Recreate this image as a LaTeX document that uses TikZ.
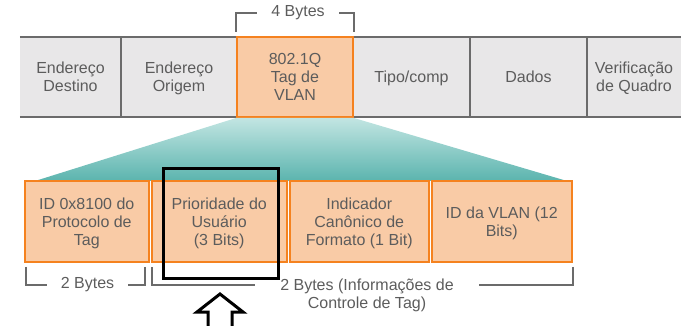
\documentclass[tikz,border=0pt]{standalone}
\usepackage{fontspec}
\setmainfont{Liberation Sans}
\usetikzlibrary{calc}
\definecolor{quadrocinza}{HTML}{E8E7E8}
\definecolor{bordacinza}{HTML}{6B6B6B}
\definecolor{textocinza}{HTML}{5C5C5C}
\definecolor{tagfundo}{HTML}{F9CBA6}
\definecolor{tagborda}{HTML}{F5821F}
\definecolor{tealclaro}{HTML}{C2E5E2}
\definecolor{tealescuro}{HTML}{5BB4AE}

\begin{document}
\begin{tikzpicture}[x=1pt,y=-1pt,
  campo/.style={fill=quadrocinza,minimum height=80pt,inner sep=0pt,align=center,font=\fontsize{16}{18}\selectfont,text=textocinza,text depth=-2pt},
  subcampo/.style={fill=tagfundo,draw=tagborda,line width=2pt,minimum height=81pt,inner sep=0pt,align=center,font=\fontsize{16}{18}\selectfont,text=textocinza,text depth=-2pt},
  borda/.style={draw=bordacinza,line width=2.2pt},
  chave/.style={draw=bordacinza,line width=1.4pt},
  rotulo/.style={font=\fontsize{16}{18}\selectfont,text=textocinza,align=center,inner xsep=14pt,inner ysep=0pt},
  destaque/.style={draw=black,line width=3pt,minimum width=115pt,minimum height=110pt,inner sep=0pt},
  seta/.style={draw=black,fill=white,line width=3pt,line join=miter}
]
\useasboundingbox (0,0) rectangle (681,326);
% quadro ethernet
\node[campo,minimum width=101pt] (dest) at (70.5,77) {Endereço\\Destino};
\node[campo,minimum width=116pt] (orig) at (179,77) {Endereço\\Origem};
\node[campo,minimum width=117pt] (tipo) at (411.5,77) {Tipo/comp};
\node[campo,minimum width=117pt] (dados) at (528.5,77) {Dados};
\node[campo,minimum width=94pt] (verif) at (634,77) {Verificação\\de Quadro};
\draw[borda] (dest.north west) -- (verif.north east);
\draw[borda] (dest.south west) -- (verif.south east);
\draw[borda] (dest.north east) -- (dest.south east);
\draw[borda] (tipo.north east) -- (tipo.south east);
\draw[borda] (dados.north east) -- (dados.south east);
\node[campo,fill=tagfundo,draw=tagborda,line width=2pt,minimum width=116pt] (tag) at (295,77) {802.1Q\\Tag de\\VLAN};
% 4 bytes
\node[rotulo] (quatro) at ($(tag.north)+(3,-23)$) {4 Bytes};
\draw[chave] ([yshift=4pt]tag.north west) |- (quatro.west);
\draw[chave] ([yshift=4pt]tag.north east) |- (quatro.east);
% ampliacao da tag
\coordinate (trapesq) at (35,181);
\coordinate (trapdir) at (567,181);
\shade[top color=tealclaro,bottom color=tealescuro] (tag.south west) -- (tag.south east) -- (trapdir) -- (trapesq) -- cycle;
\node[subcampo,minimum width=123.5pt] (tpid) at (86.75,221.5) {ID 0x8100 do\\Protocolo de\\Tag};
\node[subcampo,minimum width=135.5pt] (prio) at (219.25,221.5) {Prioridade do\\Usuário\\(3 Bits)};
\node[subcampo,minimum width=138.5pt] (cfi) at (359.25,221.5) {Indicador\\Canônico de\\Formato (1 Bit)};
\node[subcampo,minimum width=140.5pt] (vid) at (501.75,221.5) {ID da VLAN (12\\Bits)};
% chaves de bytes
\coordinate (c1a) at (26,267);
\coordinate (c1b) at (145,267);
\node[rotulo] (dois) at ($(c1a)!0.5!(c1b)+(2,18)$) {2 Bytes};
\draw[chave] (c1a) |- (dois.west);
\draw[chave] (c1b) |- (dois.east);
\coordinate (c2a) at (152,267);
\coordinate (c2b) at (573,267);
\node[rotulo,anchor=north,inner xsep=24pt] (controle) at (367,279) {2 Bytes (Informações de\\Controle de Tag)};
\draw[chave] (c2a) -- (152,285) -- (255,285);
\draw[chave] (c2b) -- (573,285) -- (479,285);
% destaque
\node[destaque] (foco) at (220.5,224) {};
\coordinate (ponta) at (220,294);
\draw[seta] ($(ponta)+(-12,36)$) -- ++(0,-18) -- ++(-11,0) -- (ponta) -- ++(23,18) -- ++(-11,0) -- ++(0,18);
\end{tikzpicture}
\end{document}
